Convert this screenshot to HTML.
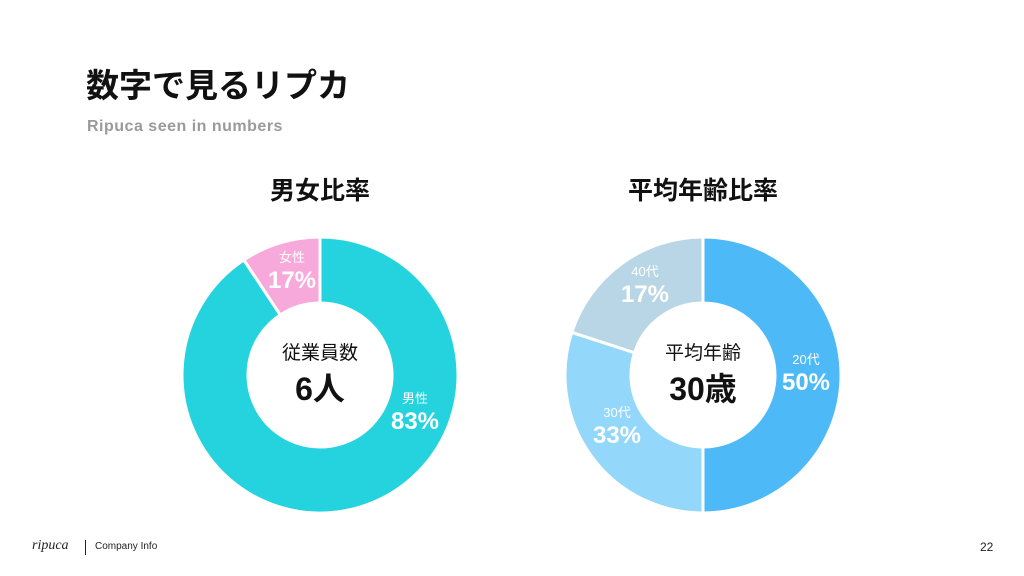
<!DOCTYPE html>
<html><head><meta charset="utf-8"><style>
body{margin:0;width:1024px;height:576px;background:#fff;overflow:hidden;font-family:"Liberation Sans","Noto Sans CJK JP",sans-serif;position:relative}
.t{position:absolute;white-space:nowrap}
</style></head><body>
<div class="t" style="left:86px;top:59px;font-size:33px;font-weight:bold;color:#111">数字で見るリプカ</div>
<div class="t" style="left:87px;top:118px;font-size:16px;font-weight:bold;color:#9a9a9a;letter-spacing:0.5px">Ripuca seen in numbers</div>
<div class="t" style="left:220px;top:171px;width:200px;text-align:center;font-size:25px;font-weight:bold;color:#111">男女比率</div>
<div class="t" style="left:580px;top:171px;width:246px;text-align:center;font-size:25px;font-weight:bold;color:#111">平均年齢比率</div>
<svg id="svg" width="1024" height="576" style="position:absolute;left:0;top:0"></svg>
<div class="t" style="left:32px;top:538px;font-family:'Liberation Serif',serif;font-style:italic;font-size:14px;color:#222">ripuca</div>
<div class="t" style="left:85px;top:540px;width:1px;height:15px;background:#222"></div>
<div class="t" style="left:95px;top:541px;font-size:10px;color:#222">Company Info</div>
<div class="t" style="left:980px;top:540px;font-size:12px;color:#222">22</div>
<script>
const genderCats=["男性","女性"];
const genderValues=[90.7,9.3];
const genderLabels=["83%","17%"];
const genderColors=["#25d3df","#f7a9dc"];
const ageCats=["20代","30代","40代"];
const ageValues=[50,30,20];
const ageLabels=["50%","33%","17%"];
const ageColors=["#4db9f7","#93d7fb","#b9d6e6"];
// label anchor offsets from donut center (layout only)
const genderLabelPos=[[95,37],[-28,-104]];
const ageLabelPos=[[103,-2],[-86,51],[-58,-90]];
const NS="http://www.w3.org/2000/svg";
const svg=document.getElementById('svg');
function pt(cx,cy,r,a){return [cx+r*Math.sin(a),cy-r*Math.cos(a)];}
function donut(cx,cy,ro,ri,vals,cols,cats,labs,lpos,name,center1,center2){
  const tot=vals.reduce((a,b)=>a+b,0);let a0=0;
  vals.forEach((v,i)=>{
    const a1=a0+v/tot*2*Math.PI;const large=(a1-a0)>Math.PI?1:0;
    const p1=pt(cx,cy,ro,a0),p2=pt(cx,cy,ro,a1),p3=pt(cx,cy,ri,a1),p4=pt(cx,cy,ri,a0);
    const p=document.createElementNS(NS,'path');
    p.setAttribute('d',`M${p1}A${ro},${ro} 0 ${large} 1 ${p2}L${p3}A${ri},${ri} 0 ${large} 0 ${p4}Z`);
    p.setAttribute('fill',cols[i]);p.setAttribute('stroke','#fff');p.setAttribute('stroke-width','3');
    
    
    svg.appendChild(p);
    const lp=[cx+lpos[i][0],cy+lpos[i][1]];
    const t1=document.createElementNS(NS,'text');
    t1.setAttribute('x',lp[0]);t1.setAttribute('y',lp[1]-9);t1.setAttribute('text-anchor','middle');
    t1.setAttribute('fill','#fff');t1.setAttribute('font-size','13');t1.textContent=cats[i];
    
    
    svg.appendChild(t1);
    const t2=document.createElementNS(NS,'text');
    t2.setAttribute('x',lp[0]);t2.setAttribute('y',lp[1]+17);t2.setAttribute('text-anchor','middle');
    t2.setAttribute('fill','#fff');t2.setAttribute('font-size','24');t2.setAttribute('font-weight','bold');t2.textContent=labs[i];
    
    
    svg.appendChild(t2);
    a0=a1;
  });
  const c1=document.createElementNS(NS,'text');
  c1.setAttribute('x',cx);c1.setAttribute('y',cy-16);c1.setAttribute('text-anchor','middle');c1.setAttribute('font-size','19');c1.setAttribute('fill','#111');c1.textContent=center1;
  
  
  svg.appendChild(c1);
  const c2=document.createElementNS(NS,'text');
  c2.setAttribute('x',cx);c2.setAttribute('y',cy+25);c2.setAttribute('text-anchor','middle');c2.setAttribute('font-size','32');c2.setAttribute('font-weight','bold');c2.setAttribute('fill','#111');c2.textContent=center2;
  
  
  svg.appendChild(c2);
}
donut(320,375,138,72,genderValues,genderColors,genderCats,genderLabels,genderLabelPos,'gender','従業員数','6人');
donut(703,375,138,72,ageValues,ageColors,ageCats,ageLabels,ageLabelPos,'age','平均年齢','30歳');
</script>
</body></html>
